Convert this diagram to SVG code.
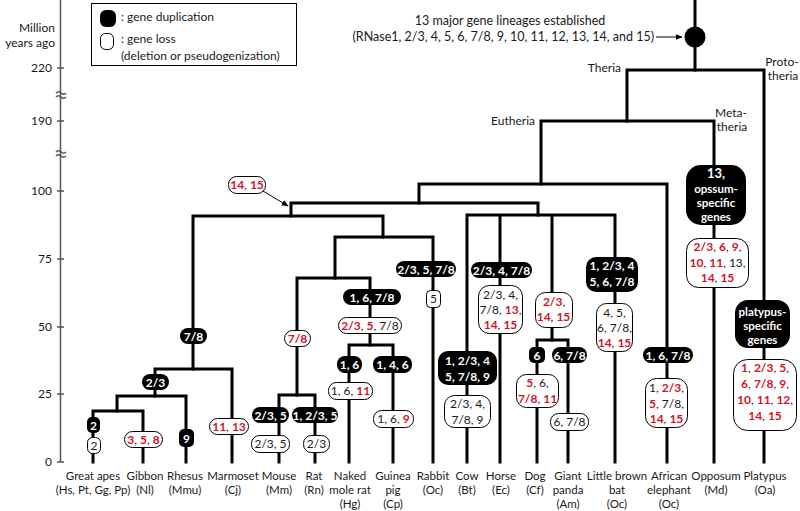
<svg xmlns="http://www.w3.org/2000/svg" width="800" height="511" viewBox="0 0 800 511">
<style>
text{font-family:Lato,"Liberation Sans",sans-serif;font-size:12px;fill:#1a1a1a}
.m{text-anchor:middle}
.e{text-anchor:end}
.d{fill:#fff;font-weight:bold;text-anchor:middle}
.r{fill:#d2132b;font-weight:bold}
.tx{font-size:11.5px}
.br{stroke:#000;stroke-width:3;fill:none;stroke-linejoin:miter;stroke-linecap:square}
.ax{stroke:#555;stroke-width:1.5;fill:none}
.dup{fill:#000}
.loss{fill:#fff;stroke:#000;stroke-width:1}
.arr{stroke:#000;stroke-width:1;fill:none}
</style>
<defs>
<marker id="ah" viewBox="0 0 10 10" refX="9" refY="5" markerWidth="7" markerHeight="7" orient="auto" markerUnits="userSpaceOnUse">
<path d="M0,1 L10,5 L0,9 Z" fill="#000"/>
</marker>
</defs>
<rect width="800" height="511" fill="#fff"/>

<g id="axis">
<path class="ax" d="M60.5,0 V462"/>
<path class="ax" d="M57,68 H64 M57,121 H64 M57,191 H64 M57,259 H64 M57,327 H64 M57,394 H64 M57,462 H64"/>
<path class="ax" d="M56,93 q2.5,-2.5 5,0 t5,0 M56,97 q2.5,-2.5 5,0 t5,0 M56,152 q2.5,-2.5 5,0 t5,0 M56,156 q2.5,-2.5 5,0 t5,0" stroke-width="1"/>
<text class="e" x="55" y="32">Million</text>
<text class="e" x="55" y="47">years ago</text>
<text class="e" x="52" y="72">220</text>
<text class="e" x="52" y="125">190</text>
<text class="e" x="52" y="195">100</text>
<text class="e" x="52" y="263">75</text>
<text class="e" x="52" y="331">50</text>
<text class="e" x="52" y="398">25</text>
<text class="e" x="52" y="466">0</text>
</g>

<g id="legend">
<rect x="91.5" y="3.5" width="205" height="62" fill="#fff" stroke="#000" stroke-width="1"/>
<rect class="dup" x="100" y="10" width="16" height="17" rx="6"/>
<rect class="loss" x="100.5" y="33.5" width="13" height="16" rx="5"/>
<text x="121" y="21">: gene duplication</text>
<text x="121" y="43">: gene loss</text>
<text x="121" y="60">(deletion or pseudogenization)</text>
</g>

<g id="root">
<text class="m" x="510" y="25" style="font-size:12.5px">13 major gene lineages established</text>
<text class="e" x="654" y="41" style="font-size:12.5px">(RNase1, 2/3, 4, 5, 6, 7/8, 9, 10, 11, 12, 13, 14, and 15)</text>
<path class="arr" d="M656,37 H682" marker-end="url(#ah)"/>
</g>

<g id="connectors">
<path class="br" d="M695,0 V70"/>
<path class="br" d="M627,121 V70 H764 V462"/>
<path class="br" d="M541,184 V121 H714 V462"/>
<path class="br" d="M419,203 V184 H667 V462"/>
<path class="br" d="M291,216 V203 H538 V215"/>
<path class="br" d="M467,462 V215 H615 V462 M500,215 V462 M552,215 V340"/>
<path class="br" d="M537,462 V340 H568 V462"/>
<path class="br" d="M193,369 V216 H383 V237"/>
<path class="br" d="M155,396 V369 H232 V462"/>
<path class="br" d="M117,411 V396 H186 V462"/>
<path class="br" d="M93,462 V411 H143 V462"/>
<path class="br" d="M335,278 V237 H433 V462"/>
<path class="br" d="M297,395 V278 H370 V345"/>
<path class="br" d="M279,462 V395 H315 V462"/>
<path class="br" d="M349,462 V345 H393 V462"/>
<path class="arr" d="M263,191 L288,206" marker-end="url(#ah)"/>
</g>

<g id="root-node"><circle cx="695" cy="37" r="10.5" fill="#000"/></g>

<g id="clade-labels">
<text class="e" x="621" y="72">Theria</text>
<text class="m" x="782" y="66">Proto-</text>
<text class="m" x="783" y="80">theria</text>
<text class="e" x="535" y="125">Eutheria</text>
<text class="m" x="731" y="117">Meta-</text>
<text class="m" x="732" y="131">theria</text>
</g>

<g id="n-boreo"><rect class="loss" x="228.5" y="176.5" width="37" height="17" rx="8"/><text class="m" x="247" y="189"><tspan class="r">14</tspan>, <tspan class="r">15</tspan></text></g>

<g id="n-primates"><rect class="dup" x="180" y="328" width="27" height="16" rx="8"/><text class="d" x="193.5" y="340.5">7/8</text></g>
<g id="n-catarrhini"><rect class="dup" x="142" y="374" width="27" height="16" rx="8"/><text class="d" x="155.5" y="386.5">2/3</text></g>
<g id="n-greatapes">
<rect class="dup" x="87" y="417" width="13" height="16" rx="5"/><text class="d" x="93.5" y="429.5">2</text>
<rect class="loss" x="87.5" y="437.5" width="13" height="16" rx="5"/><text class="m" x="94" y="450">2</text>
</g>
<g id="n-gibbon"><rect class="loss" x="124.5" y="431.5" width="38" height="16" rx="8"/><text class="m" x="143.5" y="444"><tspan class="r">3</tspan>, <tspan class="r">5</tspan>, <tspan class="r">8</tspan></text></g>
<g id="n-rhesus"><rect class="dup" x="179" y="429" width="15" height="18" rx="5"/><text class="d" x="186.5" y="442.5">9</text></g>
<g id="n-marmoset"><rect class="loss" x="209.5" y="418.5" width="39" height="16" rx="8"/><text class="m" x="229" y="431"><tspan class="r">11</tspan>, <tspan class="r">13</tspan></text></g>

<g id="n-murid"><rect class="loss" x="284.5" y="330.5" width="26" height="16" rx="8"/><text class="m r" x="297.5" y="343">7/8</text></g>
<g id="n-mouse">
<rect class="dup" x="252" y="407" width="37" height="16" rx="8"/><text class="d" x="270.5" y="419.5">2/3, 5</text>
<rect class="loss" x="251.5" y="435.5" width="38" height="17" rx="8"/><text class="m" x="270.5" y="448">2/3, 5</text>
</g>
<g id="n-rat">
<rect class="dup" x="292" y="407" width="46" height="16" rx="8"/><text class="d" x="315" y="419.5">1, 2/3, 5</text>
<rect class="loss" x="303.5" y="435.5" width="26" height="17" rx="8"/><text class="m" x="316.5" y="448">2/3</text>
</g>
<g id="n-hystrico">
<rect class="dup" x="343" y="289" width="58" height="16" rx="8"/><text class="d" x="372" y="301.5">1, 6, 7/8</text>
<rect class="loss" x="338.5" y="317.5" width="63" height="16" rx="8"/><text class="m" x="370" y="330"><tspan class="r">2/3</tspan>, <tspan class="r">5</tspan>, 7/8</text>
</g>
<g id="n-molerat">
<rect class="dup" x="337" y="356" width="25" height="17" rx="8"/><text class="d" x="349.5" y="369">1, 6</text>
<rect class="loss" x="328.5" y="382.5" width="44" height="17" rx="8"/><text class="m" x="350.5" y="395">1, 6, <tspan class="r">11</tspan></text>
</g>
<g id="n-guineapig">
<rect class="dup" x="373" y="356" width="39" height="17" rx="8"/><text class="d" x="392.5" y="369">1, 4, 6</text>
<rect class="loss" x="373.5" y="410.5" width="40" height="17" rx="8"/><text class="m" x="393.5" y="423">1, 6, <tspan class="r">9</tspan></text>
</g>
<g id="n-rabbit">
<rect class="dup" x="396" y="261" width="60" height="16" rx="8"/><text class="d" x="426" y="273.5">2/3, 5, 7/8</text>
<rect class="loss" x="426.5" y="290.5" width="14" height="17" rx="4"/><text class="m" x="433.5" y="303">5</text>
</g>
<g id="n-cow">
<rect class="dup" x="438" y="351" width="59" height="34" rx="10"/>
<text class="d" x="467.5" y="364.5">1, 2/3, 4</text><text class="d" x="467.5" y="380.5">5, 7/8, 9</text>
<rect class="loss" x="444.5" y="395.5" width="46" height="32" rx="10"/>
<text class="m" x="467.5" y="408">2/3, 4,</text><text class="m" x="467.5" y="424">7/8, 9</text>
</g>
<g id="n-horse">
<rect class="dup" x="471" y="262" width="61" height="16" rx="8"/><text class="d" x="501.5" y="274.5">2/3, 4, 7/8</text>
<rect class="loss" x="478.5" y="285.5" width="44" height="48" rx="11"/>
<text class="m" x="500.5" y="299">2/3, 4,</text><text class="m" x="500.5" y="314">7/8, <tspan class="r">13</tspan>,</text><text class="m" x="500.5" y="329"><tspan class="r">14</tspan>, <tspan class="r">15</tspan></text>
</g>
<g id="n-carnivora">
<rect class="loss" x="535.5" y="292.5" width="37" height="35" rx="10"/>
<text class="m" x="554" y="306"><tspan class="r">2/3</tspan>,</text><text class="m" x="553.5" y="321"><tspan class="r">14</tspan>, <tspan class="r">15</tspan></text>
</g>
<g id="n-dog">
<rect class="dup" x="529" y="347" width="16" height="16" rx="5"/><text class="d" x="537" y="359.5">6</text>
<rect class="loss" x="516.5" y="374.5" width="42" height="33" rx="10"/>
<text class="m" x="537.5" y="387"><tspan class="r">5</tspan>, 6,</text><text class="m" x="537.5" y="403"><tspan class="r">7/8</tspan>, <tspan class="r">11</tspan></text>
</g>
<g id="n-panda">
<rect class="dup" x="552" y="347" width="35" height="16" rx="8"/><text class="d" x="569.5" y="359.5">6, 7/8</text>
<rect class="loss" x="550.5" y="413.5" width="38" height="17" rx="8"/><text class="m" x="569.5" y="426">6, 7/8</text>
</g>
<g id="n-bat">
<rect class="dup" x="586" y="257" width="52" height="35" rx="10"/>
<text class="d" x="612" y="270">1, 2/3, 4</text><text class="d" x="612" y="285.5">5, 6, 7/8</text>
<rect class="loss" x="596.5" y="303.5" width="36" height="48" rx="10"/>
<text class="m" x="614.5" y="317">4, 5,</text><text class="m" x="614.5" y="332">6, 7/8,</text><text class="m" x="614.5" y="347"><tspan class="r">14</tspan>, <tspan class="r">15</tspan></text>
</g>
<g id="n-elephant">
<rect class="dup" x="643" y="347" width="50" height="16" rx="8"/><text class="d" x="668" y="359.5">1, 6, 7/8</text>
<rect class="loss" x="645.5" y="378.5" width="42" height="49" rx="11"/>
<text class="m" x="666.5" y="392">1, <tspan class="r">2/3</tspan>,</text><text class="m" x="666.5" y="408"><tspan class="r">5</tspan>, 7/8,</text><text class="m" x="666.5" y="423"><tspan class="r">14</tspan>, <tspan class="r">15</tspan></text>
</g>
<g id="n-opossum">
<rect class="dup" x="686" y="165" width="60" height="60" rx="15"/>
<text class="d" x="716" y="178" style="font-size:13px">13,</text>
<text class="d" x="716" y="193" style="font-size:11.5px">opssum-</text>
<text class="d" x="716" y="207" style="font-size:11.5px">specific</text>
<text class="d" x="716" y="221" style="font-size:11.5px">genes</text>
<rect class="loss" x="686.5" y="238.5" width="62" height="49" rx="12"/>
<text class="m" x="717.5" y="251"><tspan class="r">2/3</tspan>, <tspan class="r">6</tspan>, <tspan class="r">9</tspan>,</text>
<text class="m" x="717.5" y="267"><tspan class="r">10</tspan>, <tspan class="r">11</tspan>, 13,</text>
<text class="m" x="717.5" y="282"><tspan class="r">14</tspan>, <tspan class="r">15</tspan></text>
</g>
<g id="n-platypus">
<rect class="dup" x="735" y="300" width="55" height="48" rx="13"/>
<text class="d" x="762.5" y="316" style="font-size:11.5px">platypus-</text>
<text class="d" x="762.5" y="330" style="font-size:11.5px">specific</text>
<text class="d" x="762.5" y="344" style="font-size:11.5px">genes</text>
<rect class="loss" x="733.5" y="359.5" width="63" height="71" rx="14"/>
<text class="m" x="765" y="372"><tspan class="r">1</tspan>, <tspan class="r">2/3</tspan>, <tspan class="r">5</tspan>,</text>
<text class="m" x="765" y="388"><tspan class="r">6</tspan>, <tspan class="r">7/8</tspan>, <tspan class="r">9</tspan>,</text>
<text class="m" x="765" y="404"><tspan class="r">10</tspan>, <tspan class="r">11</tspan>, <tspan class="r">12</tspan>,</text>
<text class="m" x="765" y="420"><tspan class="r">14</tspan>, <tspan class="r">15</tspan></text>
</g>

<g id="taxa" class="tx">
<text class="m tx" x="93" y="480">Great apes</text><text class="m tx" x="93" y="494">(Hs, Pt, Gg, Pp)</text>
<text class="m tx" x="145" y="480">Gibbon</text><text class="m tx" x="145" y="494">(Nl)</text>
<text class="m tx" x="185" y="480">Rhesus</text><text class="m tx" x="185" y="494">(Mmu)</text>
<text class="m tx" x="233" y="480">Marmoset</text><text class="m tx" x="233" y="494">(Cj)</text>
<text class="m tx" x="279" y="480">Mouse</text><text class="m tx" x="279" y="494">(Mm)</text>
<text class="m tx" x="314" y="480">Rat</text><text class="m tx" x="314" y="494">(Rn)</text>
<text class="m tx" x="350" y="480">Naked</text><text class="m tx" x="350" y="494">mole rat</text><text class="m tx" x="350" y="508">(Hg)</text>
<text class="m tx" x="393" y="480">Guinea</text><text class="m tx" x="393" y="494">pig</text><text class="m tx" x="393" y="508">(Cp)</text>
<text class="m tx" x="433" y="480">Rabbit</text><text class="m tx" x="433" y="494">(Oc)</text>
<text class="m tx" x="467" y="480">Cow</text><text class="m tx" x="467" y="494">(Bt)</text>
<text class="m tx" x="501" y="480">Horse</text><text class="m tx" x="501" y="494">(Ec)</text>
<text class="m tx" x="535" y="480">Dog</text><text class="m tx" x="535" y="494">(Cf)</text>
<text class="m tx" x="568" y="480">Giant</text><text class="m tx" x="568" y="494">panda</text><text class="m tx" x="568" y="508">(Am)</text>
<text class="m tx" x="617" y="480">Little brown</text><text class="m tx" x="617" y="494">bat</text><text class="m tx" x="617" y="508">(Oc)</text>
<text class="m tx" x="669" y="480">African</text><text class="m tx" x="669" y="494">elephant</text><text class="m tx" x="669" y="508">(Oc)</text>
<text class="m tx" x="716" y="480">Opposum</text><text class="m tx" x="716" y="494">(Md)</text>
<text class="m tx" x="765" y="480">Platypus</text><text class="m tx" x="765" y="494">(Oa)</text>
</g>
</svg>
